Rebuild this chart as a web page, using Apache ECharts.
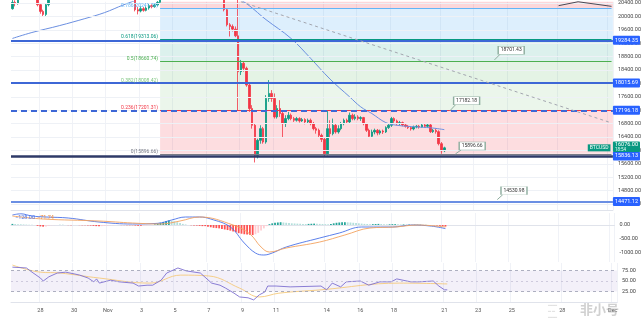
<!DOCTYPE html>
<html>
<head>
<meta charset="utf-8">
<script src="https://cdn.jsdelivr.net/npm/echarts@6/dist/echarts.min.js"></script>
<style>
  html, body { margin: 0; padding: 0; background: #ffffff; }
  #chart { width: 644px; height: 328px; }
</style>
</head>
<body>
<div id="chart"></div>
<script>
// ---- 4h slots, BTCUSD, 26 Oct 08:00 UTC onwards ----
const slotStartUTC = Date.UTC(2022, 9, 26, 8);
const slotCount = 216;
const categories = [];
for (let k = 0; k < slotCount; k++) {
  const d = new Date(slotStartUTC + k * 4 * 3600 * 1000);
  const p = n => String(n).padStart(2, '0');
  categories.push(p(d.getUTCMonth() + 1) + '-' + p(d.getUTCDate()) + ' ' + p(d.getUTCHours()) + ':00');
}

// Date labels on the time axis
const tickLabels = {
  '10-28 00:00': '28', '10-30 00:00': '30', '11-01 00:00': 'Nov', '11-03 00:00': '3',
  '11-05 00:00': '5', '11-07 00:00': '7', '11-09 00:00': '9', '11-11 00:00': '11',
  '11-14 00:00': '14', '11-16 00:00': '16', '11-18 00:00': '18', '11-21 00:00': '21',
  '11-23 00:00': '23', '11-25 00:00': '25', '11-28 00:00': '28', '12-01 00:00': 'Dec'
};

// Price scale labels
const priceTicks = [14400, 14800, 15200, 15600, 16000, 16400, 16800, 17200, 17600, 18000,
  18400, 18800, 19200, 19600, 20000, 20400];

// OHLC candles: [open, close, low, high]
const candles = [
  [20230,20420,20200,20500],[20420,20380,20300,20480],[20380,20650,20350,20800],[20650,20760,20600,20870],
  [20760,20700,20620,20850],[20700,20740,20650,20800],[20740,20640,20580,20780],[20640,20600,20520,20700],
  [20600,20560,20480,20660],[20560,20350,20300,20600],[20350,20150,20080,20400],[20150,20060,19990,20200],
  [20060,20350,20000,20380],[20350,20560,20300,20620],[20560,20620,20500,20700],[20620,20600,20540,20680],
  [20600,20750,20560,20820],[20750,20830,20700,20900],[20830,20780,20720,20880],[20780,20880,20740,20950],
  [20880,20790,20700,20920],[20790,20820,20740,20870],[20820,20760,20700,20860],[20760,20700,20640,20800],
  [20700,20740,20660,20800],[20740,20650,20580,20780],[20650,20600,20540,20700],[20600,20630,20560,20680],
  [20630,20560,20500,20660],[20560,20620,20520,20700],[20620,20580,20530,20680],[20580,20520,20460,20620],
  [20520,20580,20480,20640],[20580,20500,20460,20620],[20500,20560,20470,20600],[20560,20620,20520,20680],
  [20620,20580,20540,20660],[20580,20540,20490,20620],[20540,20560,20500,20600],[20560,20520,20480,20600],
  [20520,20480,20450,20560],[20480,20500,20450,20540],[20500,20460,20440,20540],[20460,20520,20440,20600],
  [20520,20200,20150,20700],[20200,20160,20060,20280],[20160,20230,20120,20300],[20230,20180,20140,20280],
  [20180,20250,20150,20300],[20250,20320,20200,20380],[20320,20290,20240,20360],[20290,20340,20260,20400],
  [20340,20420,20300,20460],[20420,20600,20380,20700],[20600,21100,20580,21200],[21100,21200,21050,21300],
  [21200,21150,21050,21280],[21150,21200,21100,21300],[21200,21300,21150,21400],[21300,21380,21250,21450],
  [21380,21320,21280,21420],[21320,21280,21220,21380],[21280,21300,21240,21350],[21300,21260,21200,21340],
  [21260,21200,21150,21320],[21200,21150,21100,21260],[21150,21050,21000,21200],[21050,21000,20950,21100],
  [21000,20880,20820,21060],[20880,20900,20800,20960],[20900,20800,20700,20950],[20800,20850,20750,20900],
  [20850,20750,20680,20880],[20750,20700,20620,20800],[20700,20650,20560,20760],[20650,20600,20540,20700],
  [20600,20200,20150,20650],[20200,19750,19700,20250],[19750,19700,19400,19800],[19700,19620,19550,19760],
  [19620,19420,19380,19700],[19420,18350,17180,20650],[18350,18600,18250,18700],[18600,18450,18350,18650],
  [18450,17950,17900,18500],[17950,17250,17150,18000],[17250,16750,16650,17350],[16750,15850,15640,16800],
  [15850,16300,15760,16350],[16300,16650,16200,16750],[16650,16250,16200,16700],[16250,17550,16200,17650],
  [17550,17700,17450,18100],[17700,17550,17450,17800],[17550,17000,16950,17700],[17000,17250,16950,17350],
  [17250,17100,17000,17500],[17100,16800,16400,17150],[16800,16950,16700,17050],[16950,17050,16900,17150],
  [17050,16950,16900,17100],[16950,16900,16850,17000],[16900,16950,16860,17000],[16950,16880,16830,16990],
  [16880,16920,16850,16970],[16920,16850,16780,16960],[16850,16900,16800,16950],[16900,16800,16750,16950],
  [16800,16650,16600,16850],[16650,16600,16500,16700],[16600,16450,16400,16650],[16450,16330,16250,16500],
  [16330,15900,15830,16400],[15900,16650,15850,17180],[16650,16500,16400,16900],[16500,16750,16450,16950],
  [16750,16550,16500,16800],[16550,16650,16500,16750],[16650,16800,16600,16850],[16800,16900,16750,16950],
  [16900,16850,16800,16950],[16850,17050,16800,17130],[17050,16950,16900,17100],[16950,17000,16900,17080],
  [17000,16950,16900,17050],[16950,16980,16880,17020],[16980,16800,16750,17000],[16800,16600,16550,16820],
  [16600,16420,16380,16650],[16420,16550,16400,16620],[16550,16600,16480,16650],[16600,16520,16450,16640],
  [16520,16580,16470,16620],[16580,16550,16490,16620],[16550,16680,16520,16720],[16680,16750,16640,16800],
  [16750,16950,16700,17000],[16950,16880,16820,16990],[16880,16800,16750,16920],[16800,16830,16750,16880],
  [16830,16760,16720,16860],[16760,16720,16680,16800],[16720,16680,16640,16760],[16680,16640,16590,16720],
  [16640,16700,16600,16740],[16700,16720,16660,16760],[16720,16700,16650,16760],[16700,16760,16680,16800],
  [16760,16720,16680,16790],[16720,16760,16680,16800],[16760,16560,16520,16790],[16560,16600,16520,16640],
  [16600,16560,16500,16650],[16560,16200,16150,16600],[16200,15990,15900,16250],[15990,16076,15950,16110]
];

// Moving average on price: [slot, value]
const priceMA = [
  [0,19342],[7,19519],[17,19727],[26,19934],[33,20111],[40,20348],[46,20520],[55,20700],[65,20830],
  [75,20760],[83,20437],[91,19904],[100,19342],[107,18750],[114,18128],[121,17600],[125,17300],
  [129,17100],[134,16830],[138,16750],[145,16700],[150,16675],[155,16620]
];

// Horizontal price levels
const levelValues = [19284.35, 18015.69, 17196.18, 15836.13, 14471.12];
// Fibonacci retracement (0 .. 1)
const fibRatios = ['0', '0.236', '0.382', '0.5', '0.618', '0.786', '1'];
const fibValues = [15896.66, 17201.31, 18008.42, 18660.74, 19313.06, 20241.79, 21424.82];
// Price notes
const noteValues = [18701.43, 17182.18, 15896.66, 14530.98];
// Upper-right trend segment: [slot, price] pairs
const upperTrend = [[196, 20320], [203, 20437], [215, 20300]];
const lastPrice = 16076.00;
const lastPriceTimer = '18:54';

// MACD pane
const macdLine = [
  [0,357],[3,400],[7,321],[12,286],[20,250],[31,107],[43,36],[52,60],[57,179],[62,286],[67,286],
  [71,214],[78,-71],[83,-643],[87,-1000],[90,-1071],[93,-1000],[98,-786],[110,-464],[117,-286],
  [125,-71],[136,-71],[143,0],[150,-40],[155,-128]
];
const signalLine = [
  [0,321],[11,214],[31,143],[43,71],[53,36],[60,143],[67,286],[79,0],[85,-321],[89,-786],[92,-964],
  [98,-821],[110,-607],[119,-357],[128,-107],[137,-71],[145,0],[155,-72]
];
const macdHist = [
  40,35,30,25,20,15,10,5,0,
  -30,-50,-60,-50,-30,
  -10,-5,0,5,5,0,-5,-5,0,0,-5,-10,-10,-15,
  -20,-30,-40,-45,-40,-30,-20,-10,
  -5,0,0,-5,-5,-5,-10,-10,-20,-30,-30,-25,-20,-10,0,
  20,50,80,110,140,160,150,130,100,70,
  40,20,0,-10,-20,-20,-30,-40,
  -40,-60,-80,-100,-110,-120,-140,-160,-180,-200,-230,-260,-290,-310,-330,-340,-350,-360,-330,
  -280,-200,-120,-40,
  30,60,80,90,100,90,80,70,60,55,50,45,40,35,40,45,50,45,40,35,30,25,
  40,60,80,90,100,100,95,90,80,70,60,50,40,35,30,30,35,40,35,30,
  25,25,30,30,25,20,20,15,15,10,10,10,10,5,5,0,0,
  -10,-20,-30,-45,-56
];
const macdLegend = ['\u2212128.00', '\u221271.74'];

// RSI pane
const rsiLine = [
  [0,83],[5,81],[7,71],[10,57],[11,50],[13,60],[16,69],[19,71],[22,67],[24,64],[27,57],[29,48],
  [30,55],[31,45],[35,52],[38,48],[43,45],[45,38],[48,40],[50,40],[53,52],[55,69],[59,81],[62,74],
  [67,69],[69,57],[71,45],[74,40],[76,33],[79,21],[81,12],[84,10],[86,5],[88,17],[90,24],[91,38],
  [94,38],[99,36],[110,38],[112,29],[114,45],[117,36],[119,48],[124,50],[127,40],[131,48],[135,48],
  [137,55],[142,48],[145,48],[150,50],[152,38],[154,29],[155,29]
];
const rsiMA = [
  [0,88],[10,71],[17,69],[31,57],[49,45],[60,64],[70,62],[81,33],[88,12],[95,21],[110,29],
  [138,45],[155,43]
];

// ---------------- styling / layout ----------------
const UP = '#089981', DOWN = '#f23645';
const FONT = 'Roboto, "Liberation Sans", sans-serif';
const fibColors = ['#787b86', '#f23645', '#81c784', '#4caf50', '#089981', '#64b5f6', '#787b86'];
const fibFills = ['rgba(242,54,69,0.17)', 'rgba(129,199,132,0.16)', 'rgba(76,175,80,0.15)',
  'rgba(8,153,129,0.14)', 'rgba(100,181,246,0.22)', 'rgba(242,54,69,0.2)'];
const fibStart = 53;
const lastSlot = slotCount - 1;
const levelStyles = [
  { color: '#3d67d6', width: 2, type: 'solid' },
  { color: '#3d67d6', width: 2, type: 'solid' },
  { color: '#3d67d6', width: 2, type: [6, 4] },
  { color: '#2e3a68', width: 2.5, type: 'solid' },
  { color: '#6b8fe3', width: 2, type: 'solid' }
];
const noteAnchors = [[179, 18990], [163, 17480], [165, 16130], [180, 14800]];

const isTick = (i, v) => Object.prototype.hasOwnProperty.call(tickLabels, v);

function catAxis(gridIndex, showLabels) {
  return {
    type: 'category', gridIndex, data: categories, boundaryGap: true,
    axisLine: { show: true, lineStyle: { color: '#e0e3eb', width: 1 } },
    axisTick: { show: false },
    axisLabel: {
      show: showLabels, interval: isTick, formatter: v => tickLabels[v] || '',
      fontSize: 5.5, color: '#555', margin: 5, fontFamily: FONT
    },
    splitLine: { show: true, interval: isTick, lineStyle: { color: '#f0f2f7', width: 1 } }
  };
}

const boxLabel = (text, bg) => ({
  show: true, position: 'end', distance: 0, formatter: text,
  color: '#fff', backgroundColor: bg, fontSize: 5.5, fontFamily: FONT,
  padding: [2, 2, 1, 2], borderRadius: 1
});

// full-width levels
const levelLines = levelValues.map((v, k) => ({
  yAxis: v,
  lineStyle: levelStyles[k],
  label: boxLabel(v.toFixed(2), '#2962ff')
}));

// fib lines from the drawing start to the right edge
const fibLines = fibValues.map((v, k) => [
  {
    coord: [fibStart, v],
    lineStyle: { color: fibColors[k], width: 1, type: 'solid' },
    label: {
      show: true, position: 'start', distance: 2, offset: [0, -2.5],
      formatter: fibRatios[k] + '(' + v.toFixed(2) + ')',
      color: fibColors[k], fontSize: 5, fontFamily: FONT
    }
  },
  { coord: [lastSlot, v] }
]);

const fibZones = fibValues.slice(0, -1).map((v, k) => [
  { coord: [fibStart, v], itemStyle: { color: fibFills[k] } },
  { xAxis: Infinity, yAxis: fibValues[k + 1] }
]);

// trend lines and note pointers
const trendLine = [
  { coord: [82, 20437], lineStyle: { color: '#a3a6af', width: 1, type: [3, 3] }, label: { show: false } },
  { coord: [lastSlot, 16821] }
];
const upperTrendLines = upperTrend.slice(0, -1).map((p, k) => [
  { coord: p, lineStyle: { color: '#4a4a55', width: 1, type: 'solid' }, label: { show: false } },
  { coord: upperTrend[k + 1] }
]);
const notePointers = noteValues.map((v, k) => [
  { coord: [noteAnchors[k][0] - 6, v], lineStyle: { color: '#8fae9f', width: 1, type: 'solid' }, label: { show: false } },
  { coord: [noteAnchors[k][0] - 4.3, noteAnchors[k][1] - 120] }
]);
const noteBoxes = noteValues.map((v, k) => ({
  coord: noteAnchors[k], symbol: 'rect', symbolSize: [26, 8],
  itemStyle: { color: '#ffffff', borderColor: '#8fae9f', borderWidth: 0.8 },
  label: { show: true, position: 'inside', formatter: v.toFixed(2), color: '#333', fontSize: 5, fontFamily: FONT }
}));

const chart = echarts.init(document.getElementById('chart'), null, { renderer: 'canvas' });

const option = {
  animation: false,
  backgroundColor: '#ffffff',
  textStyle: { fontFamily: FONT },
  grid: [
    { left: 11, right: 27, top: 0, height: 210 },
    { left: 11, right: 27, top: 213, height: 49 },
    { left: 11, right: 27, top: 263, height: 40 }
  ],
  xAxis: [catAxis(0, false), catAxis(1, false), catAxis(2, true)],
  yAxis: [
    {
      type: 'value', gridIndex: 0, position: 'right', min: 14221, max: 20437,
      axisLine: { show: false }, axisTick: { show: false }, splitLine: { show: false },
      axisLabel: { customValues: priceTicks, formatter: v => v.toFixed(2), fontSize: 5.5, color: '#444', margin: 5, fontFamily: FONT }
    },
    {
      type: 'value', gridIndex: 1, position: 'right', min: -1321, max: 429,
      axisLine: { show: false }, axisTick: { show: false }, splitLine: { show: false },
      axisLabel: { customValues: [0, -500, -1000], formatter: v => v.toFixed(2), fontSize: 5.5, color: '#444', margin: 5, fontFamily: FONT }
    },
    {
      type: 'value', gridIndex: 2, position: 'right', min: -2.38, max: 92.86,
      axisLine: { show: false }, axisTick: { show: false }, splitLine: { show: false },
      axisLabel: { customValues: [25, 50, 75], formatter: v => v.toFixed(2), fontSize: 5.5, color: '#444', margin: 5, fontFamily: FONT }
    }
  ],
  series: [
    { // price grid lines
      type: 'line', xAxisIndex: 0, yAxisIndex: 0, data: [], z: 0, silent: true,
      markLine: {
        silent: true, symbol: 'none', animation: false,
        lineStyle: { color: '#eef1f6', width: 1, type: 'solid' }, label: { show: false },
        data: priceTicks.map(v => ({ yAxis: v }))
      }
    },
    { // fib zones
      type: 'line', xAxisIndex: 0, yAxisIndex: 0, data: [], z: 1, silent: true,
      markArea: { silent: true, animation: false, data: fibZones }
    },
    { // fib lines, levels, trend lines
      type: 'line', xAxisIndex: 0, yAxisIndex: 0, data: [], z: 2, silent: true,
      markLine: {
        silent: true, symbol: 'none', animation: false,
        data: [...fibLines, ...levelLines, trendLine, ...upperTrendLines, ...notePointers]
      }
    },
    { // last price tag on the scale
      type: 'line', xAxisIndex: 0, yAxisIndex: 0, data: [], z: 6, silent: true,
      markLine: {
        silent: true, symbol: 'none', animation: false,
        data: [{
          yAxis: lastPrice, lineStyle: { color: 'rgba(0,0,0,0)', width: 0 },
          label: {
            show: true, position: 'end', distance: 0, offset: [0, -1],
            formatter: '{a|' + lastPrice.toFixed(2) + '}\n{b|' + lastPriceTimer + '}',
            backgroundColor: UP, padding: [0.5, 2, 0, 2], borderRadius: 1,
            rich: {
              a: { color: '#fff', fontSize: 5.5, fontFamily: FONT, lineHeight: 5.5 },
              b: { color: '#e6fff8', fontSize: 4.5, fontFamily: FONT, lineHeight: 4.5 }
            }
          }
        }]
      }
    },
    {
      type: 'candlestick', name: 'BTCUSD', xAxisIndex: 0, yAxisIndex: 0, z: 3,
      data: candles, barWidth: 2, clip: true,
      itemStyle: { color: UP, color0: DOWN, borderColor: UP, borderColor0: DOWN, borderWidth: 0.8 },
      markPoint: {
        silent: true, animation: false,
        data: [
          ...noteBoxes,
          { coord: [lastSlot, lastPrice], symbol: 'circle', symbolSize: 0.1,
            label: { show: true, position: 'left', distance: 1, formatter: 'BTCUSD', color: '#fff',
              backgroundColor: UP, fontSize: 5, fontFamily: FONT, padding: [1, 2, 1, 2] } }
        ]
      }
    },
    {
      type: 'line', name: 'MA', xAxisIndex: 0, yAxisIndex: 0, z: 4, data: priceMA, smooth: 0.4,
      showSymbol: false, clip: true, lineStyle: { color: '#6b8fe0', width: 1 }
    },
    // MACD
    {
      type: 'bar', xAxisIndex: 1, yAxisIndex: 1, barWidth: 1.8, z: 2,
      data: macdHist.map((v, i) => {
        const prev = i > 0 ? macdHist[i - 1] : v;
        const c = v >= 0 ? (v >= prev ? '#26a69a' : '#b2dfdb') : (v <= prev ? '#ff5252' : '#ffcdd2');
        return { value: v, itemStyle: { color: c } };
      })
    },
    { type: 'line', xAxisIndex: 1, yAxisIndex: 1, data: macdLine, smooth: 0.4, showSymbol: false, z: 3,
      lineStyle: { color: '#4a72e8', width: 0.9 } },
    { type: 'line', xAxisIndex: 1, yAxisIndex: 1, data: signalLine, smooth: 0.4, showSymbol: false, z: 3,
      lineStyle: { color: '#f3a15f', width: 0.9 } },
    // RSI
    {
      type: 'line', xAxisIndex: 2, yAxisIndex: 2, data: rsiMA, smooth: 0.4, showSymbol: false, z: 3,
      lineStyle: { color: '#f5c97a', width: 0.9 },
      markArea: { silent: true, itemStyle: { color: 'rgba(126,87,194,0.09)' }, data: [[{ yAxis: 25 }, { yAxis: 75 }]] },
      markLine: {
        silent: true, symbol: 'none', label: { show: false },
        lineStyle: { color: '#9a9cb0', width: 0.8, type: [3, 3] },
        data: [{ yAxis: 75 }, { yAxis: 50, lineStyle: { color: '#c4c0d6', type: [2, 3] } }, { yAxis: 25 }]
      }
    },
    { type: 'line', xAxisIndex: 2, yAxisIndex: 2, data: rsiLine, showSymbol: false, z: 4,
      lineStyle: { color: '#7e6fd0', width: 0.9 } }
  ],
  graphic: [
    { type: 'text', left: 15, top: 215, z: 10, style: { text: macdLegend[0], fill: '#4a72e8', fontSize: 5.5, fontFamily: FONT } },
    { type: 'text', left: 37, top: 215, z: 10, style: { text: macdLegend[1], fill: '#f08a3c', fontSize: 5.5, fontFamily: FONT } },
    { type: 'text', left: 580, top: 303, z: 10,
      style: { text: '非小号', fill: 'rgba(170,170,170,0.55)', fontSize: 13, fontFamily: '"Noto Sans CJK SC", sans-serif', fontWeight: 'bold' } },
    { type: 'text', left: 548, top: 303, z: 10,
      style: { text: '━━━\n━ ━\n━━━', fill: 'rgba(170,170,170,0.45)', fontSize: 5, lineHeight: 6, fontFamily: FONT } }
  ]
};

chart.setOption(option);
</script>
</body>
</html>
